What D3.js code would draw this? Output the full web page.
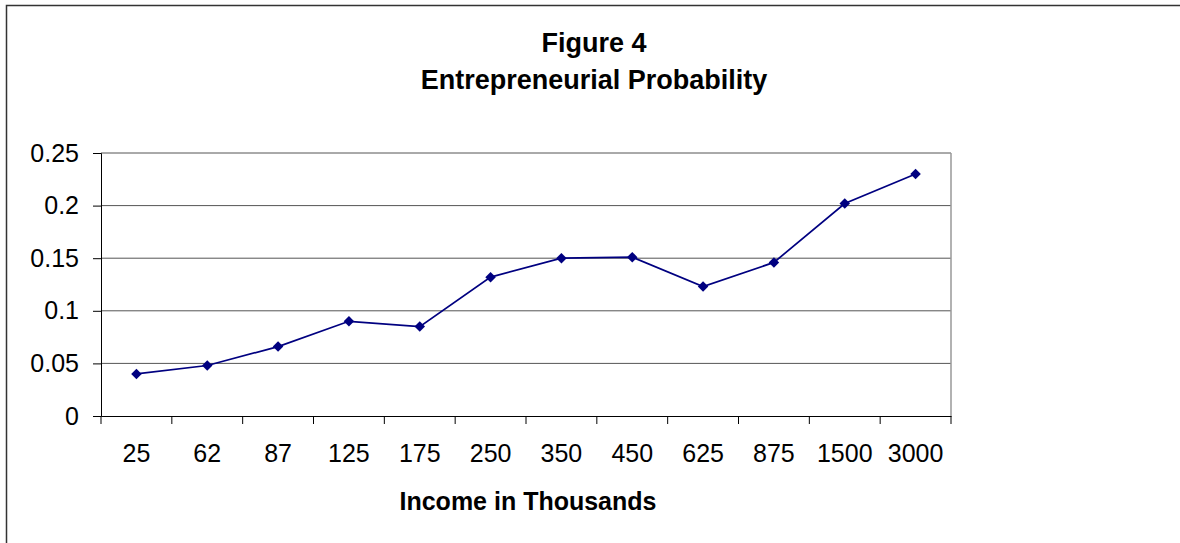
<!DOCTYPE html>
<html><head><meta charset="utf-8">
<script src="https://cdnjs.cloudflare.com/ajax/libs/d3/7.8.5/d3.min.js"></script>
<style>body{margin:0;background:#fff}svg{display:block;font-family:Arial,"Liberation Sans",sans-serif}</style>
</head><body>
<script>
var incomes = ["25","62","87","125","175","250","350","450","625","875","1500","3000"];
var probability = [0.04, 0.048, 0.066, 0.09, 0.085, 0.132, 0.15, 0.151, 0.123, 0.146, 0.202, 0.23];
var yTicks = [0, 0.05, 0.1, 0.15, 0.2, 0.25];

var W = 1180, H = 543;
var plotL = 101, plotR = 951, plotT = 153, plotB = 416;

var svg = d3.select("body").append("svg").attr("width", W).attr("height", H);

// outer chart frame
svg.append("rect").attr("x", 6.5).attr("y", 5.5).attr("width", W + 10).attr("height", H + 10)
  .attr("fill", "none").attr("stroke", "#333").attr("stroke-width", 1.5);

var x = d3.scaleBand().domain(incomes).range([plotL, plotR]);
var y = d3.scaleLinear().domain([0, 0.25]).range([plotB, plotT]);

// gridlines
svg.append("g").selectAll("line").data(yTicks.slice(1)).enter().append("line")
  .attr("x1", plotL).attr("x2", plotR).attr("y1", d => y(d)).attr("y2", d => y(d))
  .attr("stroke", "#555").attr("stroke-width", 1);

// plot border right side
svg.append("line").attr("x1", plotR).attr("x2", plotR).attr("y1", plotT).attr("y2", plotB)
  .attr("stroke", "#999").attr("stroke-width", 1.5);

var yAxis = svg.append("g").attr("transform", "translate(" + plotL + ",0)")
  .call(d3.axisLeft(y).tickValues(yTicks).tickFormat(d => String(d)).tickSize(8).tickPadding(14));
var xAxis = svg.append("g").attr("transform", "translate(0," + plotB + ")")
  .call(d3.axisBottom(x).tickSize(0).tickPadding(28));
xAxis.selectAll("line.sep").data(d3.range(incomes.length + 1)).enter().append("line")
  .attr("class", "sep").attr("x1", i => plotL + i * x.step()).attr("x2", i => plotL + i * x.step())
  .attr("y1", 0).attr("y2", 8).attr("stroke", "#000");
[yAxis, xAxis].forEach(a => {
  a.select(".domain").attr("stroke", "#000");
  a.selectAll("text").attr("font-size", 25).attr("fill", "#000").attr("font-family", "Arial, 'Liberation Sans', sans-serif");
});
yAxis.selectAll(".tick line").attr("transform", "translate(0,0)");

var cx = d => x(d) + x.bandwidth() / 2;
svg.append("path").datum(probability)
  .attr("d", d3.line().x((d, i) => cx(incomes[i])).y(d => y(d)))
  .attr("fill", "none").attr("stroke", "#000080").attr("stroke-width", 1.7);
svg.append("g").selectAll("path").data(probability).enter().append("path")
  .attr("d", d3.symbol().type(d3.symbolSquare).size(55))
  .attr("transform", (d, i) => "translate(" + cx(incomes[i]) + "," + y(d) + ") rotate(45)")
  .attr("fill", "#000080");

svg.append("text").attr("x", 594).attr("y", 52).attr("text-anchor", "middle")
  .attr("font-size", 27).attr("font-weight", "bold").text("Figure 4");
svg.append("text").attr("x", 594).attr("y", 89).attr("text-anchor", "middle")
  .attr("font-size", 27).attr("font-weight", "bold").text("Entrepreneurial Probability");
svg.append("text").attr("x", 528).attr("y", 510).attr("text-anchor", "middle")
  .attr("font-size", 25).attr("font-weight", "bold").text("Income in Thousands");
</script>
</body></html>
